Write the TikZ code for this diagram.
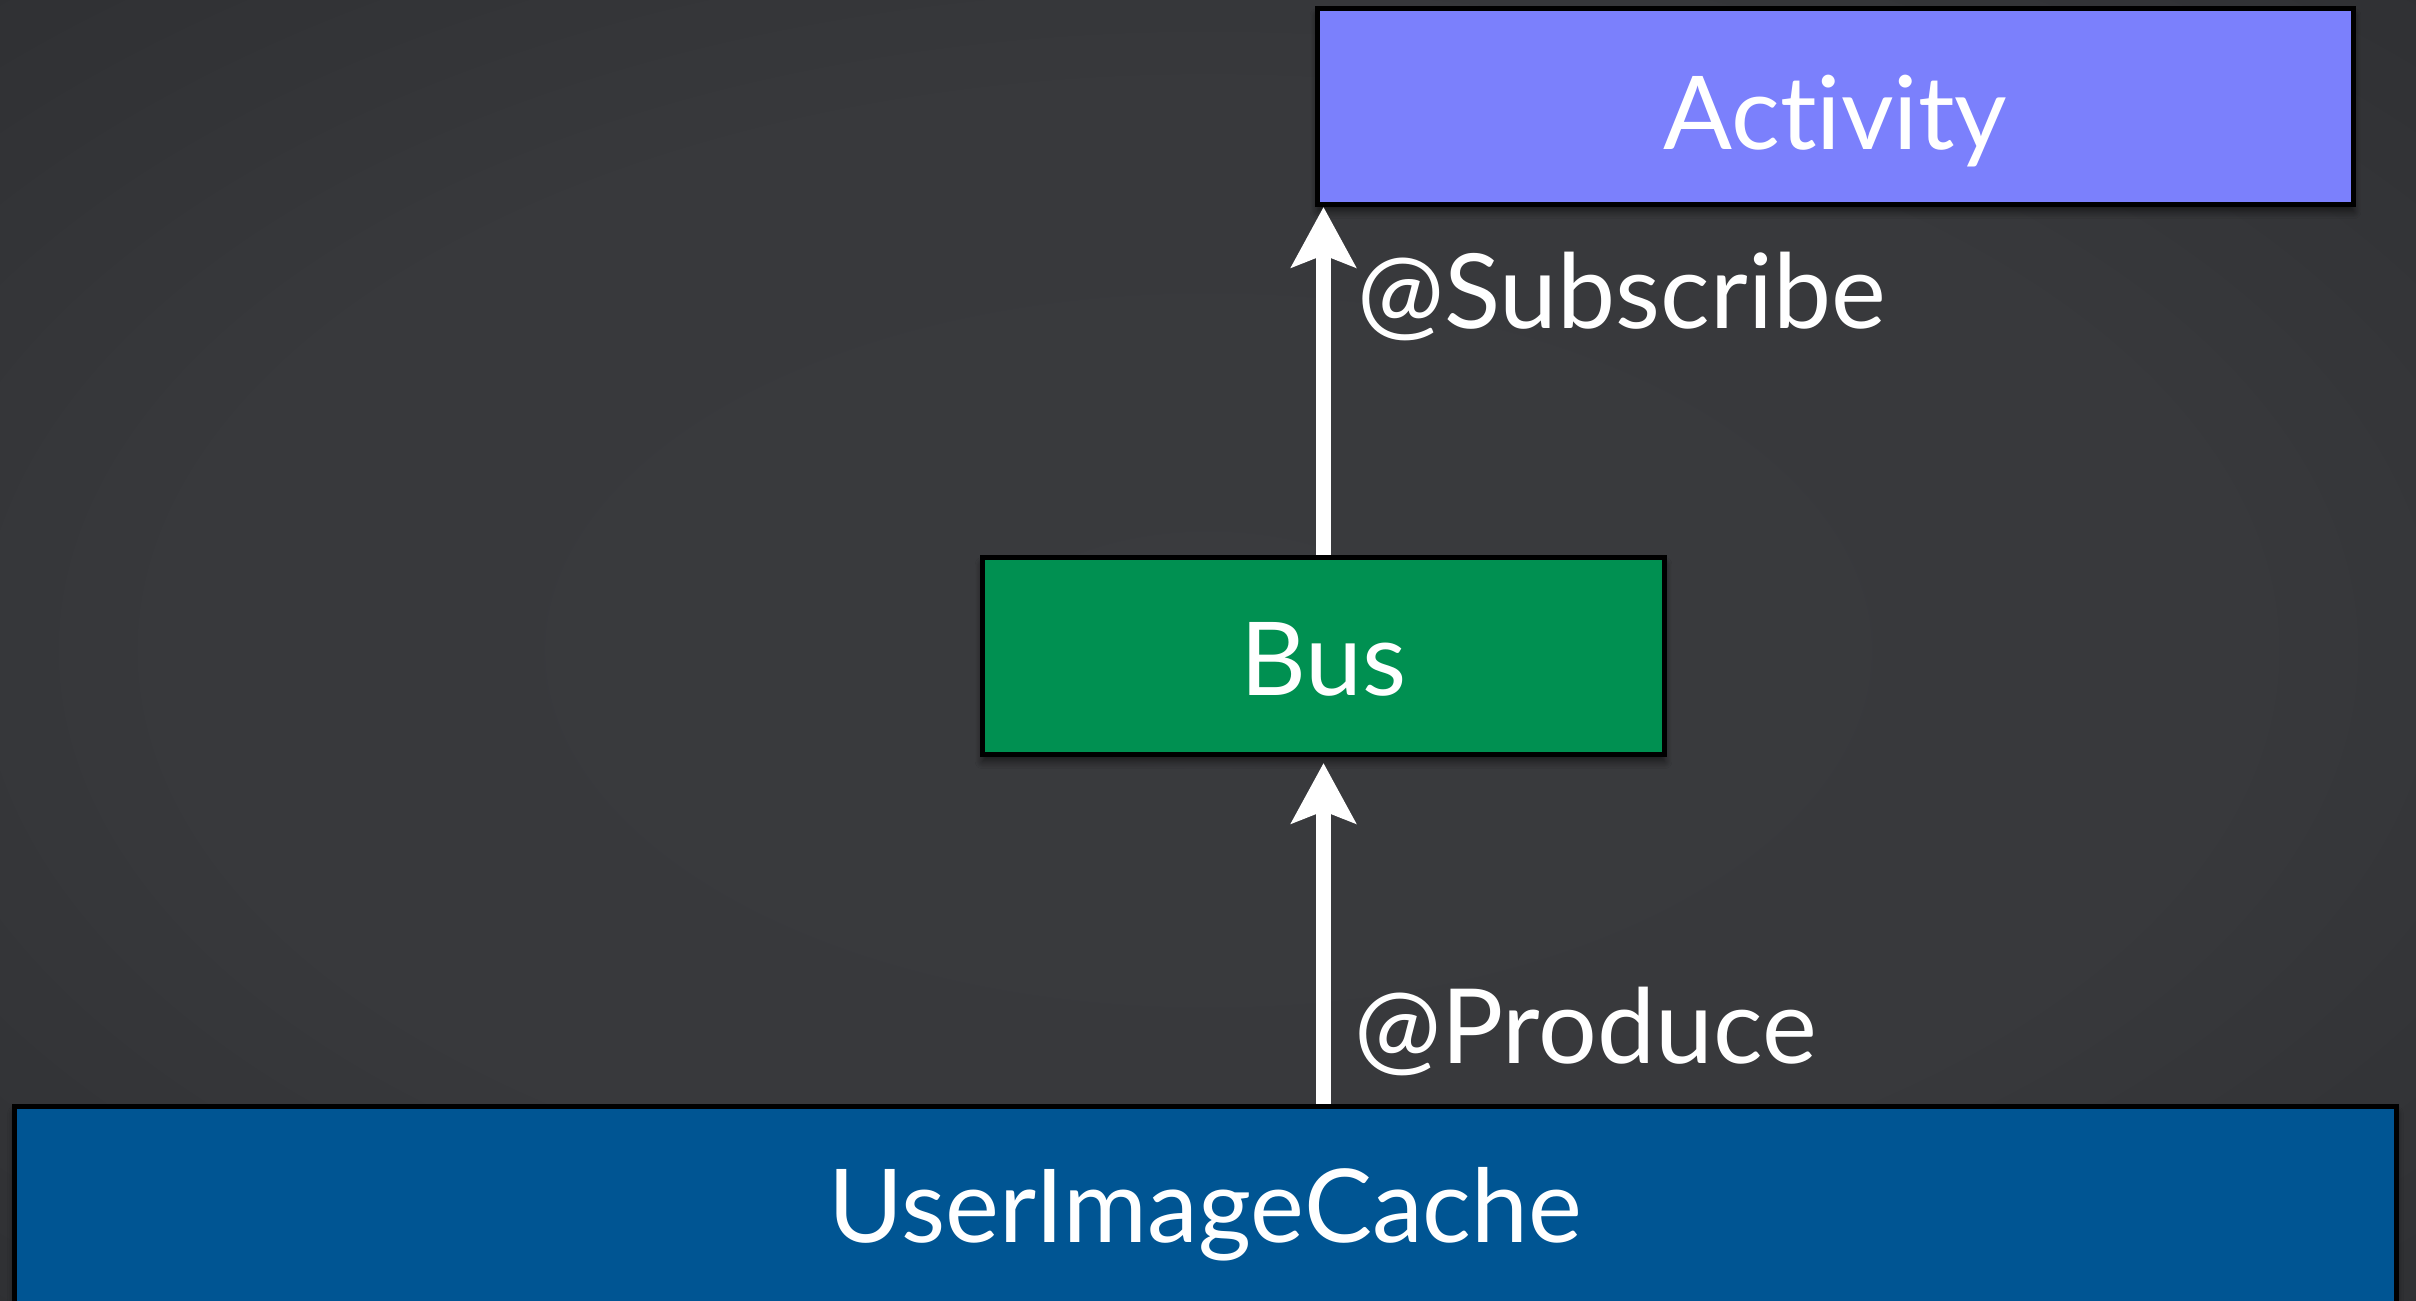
\documentclass[tikz,border=0pt]{standalone}
\usepackage{fontspec}
\setmainfont{Lato}[Ligatures={NoCommon,NoDiscretionary,NoContextual}]
\usetikzlibrary{arrows.meta,shadows.blur}

\definecolor{bgmid}{HTML}{3A3B3E}
\definecolor{bgedge}{HTML}{1C1D20}
\definecolor{actfill}{HTML}{7B80FC}
\definecolor{busfill}{HTML}{009051}
\definecolor{cachefill}{HTML}{005593}

% soft vignette behind the slide
\pgfdeclareradialshading{vignette}{\pgfpoint{0bp}{0bp}}{%
  color(0bp)=(bgmid); color(22bp)=(bgmid!92!bgedge);
  color(45bp)=(bgmid!45!bgedge); color(72bp)=(bgedge)}

\tikzset{
  block/.style={draw=black, line width=0.05cm, text=white,
    font=\fontsize{29}{34}\selectfont, inner sep=0pt, text depth=0pt,
    blur shadow={shadow xshift=0cm, shadow yshift=-0.07cm,
      shadow opacity=55, shadow blur steps=8}},
  flow/.style={draw=white, line width=0.15cm,
    -{Stealth[length=0.6cm, width=0.64cm, inset=0.12cm]}},
  tag/.style={text=white, font=\fontsize{29.5}{34}\selectfont,
    inner sep=0pt, anchor=base west}
}

\begin{document}
\begin{tikzpicture}[x=0.01cm, y=-0.01cm]
  \useasboundingbox (0,0) rectangle (2416,1300);
  \clip (0,0) rectangle (2416,1300);
  \shade[shading=vignette] (0,0) rectangle (2416,1300);

  % components
  \node[block, fill=actfill, minimum width=10.36cm, minimum height=1.96cm,
        text height=0.85cm] (act) at (1835.5,106.5) {Activity};
  \node[block, fill=busfill, minimum width=6.82cm, minimum height=1.97cm,
        text height=0.78cm] (bus) at (1323.5,656) {Bus};
  \node[block, fill=cachefill, minimum width=23.80cm, minimum height=4cm,
        text height=0pt, text depth=1.27cm] (cache) at (1205.5,1306.5) {UserImageCache};

  % event flow
  \draw[flow] (bus.south |- cache.north) -- ([yshift=-0.06cm]bus.south);
  \draw[flow] (bus.north) -- (bus.north |- act.south);

  % annotations
  \node[tag] (sub) at (1357,328) {@Subscribe};
  \node[tag] (prod) at (1354,1063) {@Produce};
\end{tikzpicture}
\end{document}
